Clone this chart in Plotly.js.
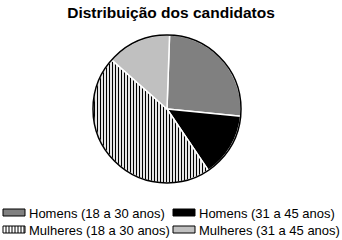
<!DOCTYPE html>
<html><head><meta charset="utf-8">
<script src="https://cdn.plot.ly/plotly-3.0.1.min.js"></script>
<style>html,body{margin:0;padding:0;background:#fff}</style>
</head><body><div id="chart" style="width:342px;height:240px"></div>
<script>
const categories = ["Homens (18 a 30 anos)", "Homens (31 a 45 anos)", "Mulheres (18 a 30 anos)", "Mulheres (31 a 45 anos)"];
const values = [26, 14, 46, 14];
const colors = ["#808080", "#000000", "#ffffff", "#c0c0c0"];
const patterns = ["", "", "|", ""];
const titleText = "Distribuição dos candidatos";

const W = 342, H = 240;
const px = x => x / W;
const py = y => (H - y) / H;

// pie geometry (pixels)
const cx = 167, cy = 109, R = 74;

const trace = {
  type: "pie",
  labels: categories,
  values: values,
  sort: false,
  direction: "clockwise",
  rotation: 2,
  textinfo: "none",
  hoverinfo: "label+percent",
  domain: {x: [px(cx - R), px(cx + R)], y: [py(cy + R), py(cy - R)]},
  marker: {
    colors: colors,
    line: {color: "#ffffff", width: 1.5},
    pattern: {shape: patterns, fgcolor: "#000000", bgcolor: "#ffffff", size: 3, solidity: 0.4}
  },
  showlegend: false
};

const shapes = [{
  type: "circle", xref: "paper", yref: "paper", layer: "above",
  x0: px(cx - R), x1: px(cx + R), y0: py(cy + R), y1: py(cy - R),
  line: {color: "#000000", width: 1.5}
}];
const annotations = [];

// custom legend
const legPos = [
  {x: 3, y: 209}, {x: 173, y: 209},
  {x: 3, y: 226}, {x: 173, y: 226}
];
const sw = 22, sh = 7;
categories.forEach((c, i) => {
  const p = legPos[i];
  shapes.push({
    type: "rect", xref: "paper", yref: "paper",
    x0: px(p.x), x1: px(p.x + sw), y0: py(p.y + sh), y1: py(p.y),
    fillcolor: colors[i], line: {color: "#000000", width: 1}
  });
  if (patterns[i] === "|") {
    for (let k = 3; k < sw; k += 3) {
      shapes.push({
        type: "line", xref: "paper", yref: "paper",
        x0: px(p.x + k), x1: px(p.x + k), y0: py(p.y + sh), y1: py(p.y),
        line: {color: "#000000", width: 1}
      });
    }
  }
  annotations.push({
    xref: "paper", yref: "paper", x: px(p.x + sw + 2), y: py(p.y + sh / 2 + 0.5),
    xanchor: "left", yanchor: "middle", showarrow: false, text: c,
    font: {family: "Liberation Sans, Arial, sans-serif", size: 13, color: "#000"}
  });
});

const layout = {
  width: W, height: H,
  margin: {l: 0, r: 0, t: 0, b: 0},
  paper_bgcolor: "#ffffff",
  title: {
    text: "<b>" + titleText + "</b>",
    x: 0.5, xanchor: "center", y: py(13), yanchor: "middle",
    font: {family: "Liberation Sans, Arial, sans-serif", size: 15.5, color: "#000"}
  },
  shapes: shapes,
  annotations: annotations,
  showlegend: false
};

Plotly.newPlot("chart", [trace], layout, {staticPlot: true});
</script></body></html>
